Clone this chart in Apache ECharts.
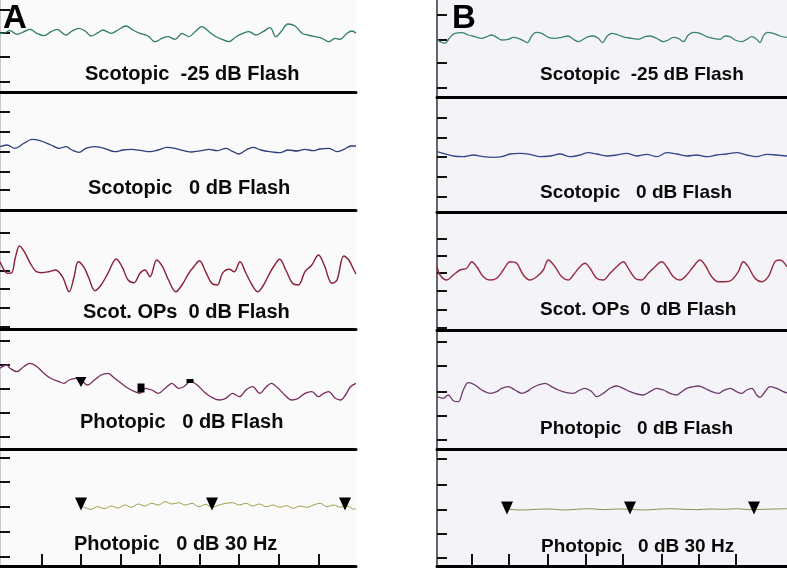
<!DOCTYPE html>
<html><head><meta charset="utf-8">
<script src="https://cdn.jsdelivr.net/npm/echarts@6/dist/echarts.min.js"></script>
<style>html,body{margin:0;padding:0;background:#fff}#c{width:787px;height:569px}</style>
</head><body><div id="c"></div>
<script>
// ---------- DATA (time in ms-like units, amplitude in µV-like units) ----------
const rowLabels = ['Scotopic  -25 dB Flash', 'Scotopic   0 dB Flash', 'Scot. OPs  0 dB Flash', 'Photopic   0 dB Flash', 'Photopic   0 dB 30 Hz'];
const panelNames = ['A', 'B'];

const scotNeg25A = [[0,59],[3,58.7],[10,61.3],[17,57.7],[24,60.3],[30,62.7],[37,58.7],[44,56.3],[51,60.3],[57,62.7],[66,57],[72,61],[79,63.7],[86,60.3],[91,56],[98,59.3],[103,62],[111,58.7],[118,62],[126,66],[133,62],[140,58.7],[148,56],[155,50.3],[162,53.7],[168,55.3],[175,52.7],[182,58.7],[189,55.3],[195,60.3],[202,65.3],[209,60.3],[216,55.3],[222,52.7],[229,50.3],[236,55.3],[243,58.7],[249,60.3],[256,57],[263,60.3],[270,64.3],[276,55.3],[281,60.3],[288,68],[295,66],[302,58.7],[308,57],[315,55.3],[322,53.7],[329,50.3],[335,53.7],[340,52.7],[347,58.7],[352,61],[356,58.7]];
const scot0A = [[0,63.3],[7,65],[15,61.7],[24,66.7],[32,70.7],[40,69.3],[51,65],[59,61.7],[66,63.3],[72,60],[79,57.7],[86,61.7],[94,63.3],[104,61.7],[115,58.3],[123,60],[131,60.7],[142,59.3],[150,58.3],[158,60],[167,62.7],[175,61.7],[184,59.3],[192,58],[201,59.3],[209,60.7],[217,59.3],[226,61.7],[233,58.3],[239,56],[246,60],[253,62.7],[261,60],[270,58.3],[280,57.3],[288,60],[297,59],[305,60.7],[313,59.3],[320,61],[329,61.7],[337,58.3],[344,60.7],[351,64],[356,64]];
const scotOPsA = [[0,67.3],[4,59],[7.4,55.7],[11.8,56.3],[15.2,70.7],[19.5,83],[24.3,77.3],[30.3,65.7],[36.4,57.3],[42.1,56.3],[48.9,57.3],[55.6,59],[62.4,52.3],[69.1,37.3],[74.1,52.3],[78.2,67.3],[83.6,62.3],[88.3,52.3],[95,38.3],[101.1,44],[107.9,55.7],[116.3,70],[122,62.3],[128.1,49],[134.1,46.3],[139.9,55.7],[144.9,59],[150,52.3],[156.7,69],[162.5,62.3],[168.5,49],[175.9,37.3],[182,44],[188.7,55.7],[193.8,62.3],[199.5,68.3],[205.6,57.3],[211.7,45.7],[217.4,44],[222.4,55.7],[229.2,59.7],[234.2,57.3],[240,67.3],[246,55.7],[252.1,44],[257.8,37.3],[263.6,44],[269.6,55.7],[274.7,64],[279.7,69.7],[285.8,59],[292.6,45.7],[298.3,44],[305,57.3],[311.8,64],[318.5,74],[324.2,64],[332,45.7],[337,49],[343.8,73],[348.8,69],[353.9,59],[356,55]];
const photoFlashA = [[0,80.7],[6.7,84],[10.1,80.7],[16.9,77.3],[23.6,82.3],[30.3,85.7],[37.1,82.3],[43.8,75.7],[50.6,70.7],[59,67.3],[64,65.7],[69.1,69],[75.8,70.7],[82.6,67.3],[87.6,64],[94.4,69],[101.1,74],[107.9,75.7],[114.6,70.7],[121.3,65.7],[128.1,60.7],[134.8,57.3],[139.9,55.7],[144.9,60.7],[151.7,59],[158.4,55.7],[165.2,60.7],[171.9,65.7],[178.6,60.7],[183.7,62.3],[190.4,67.3],[197.2,64],[203.9,57.3],[210.7,52.3],[219.1,49],[225.8,50.7],[232.6,55.7],[239.3,52.3],[246,59],[252.8,62.3],[259.5,55.7],[266.3,62.3],[271.3,65.7],[278.1,60.7],[284.8,54],[291.5,49],[298.3,50.7],[305,55.7],[311.8,57.3],[318.5,52.3],[323.6,55.7],[328.6,57.3],[335.4,50.7],[340.4,49],[345.5,54],[350.5,62.3],[356,65.7]];
const photoFlashMarksA = [[81,67],[141,61],[190,68]];
const flicker30A = [[81,61],[84.3,58.7],[91,56.7],[97.7,59.3],[104.5,57.3],[111.2,60],[118,58],[124.7,61],[131.4,58.7],[138.2,62],[144.9,60],[151.7,62.7],[158.4,61],[165.2,64.3],[171.9,62],[178.6,63.3],[185.4,61],[192.1,62.7],[198.9,59.3],[205.6,61.7],[212.3,58.7],[219.1,61],[225.8,62.7],[232.6,63.3],[239.3,61],[246,62.7],[252.8,60],[259.5,62],[266.3,59.3],[273,61],[279.7,58.7],[286.5,60.3],[293.2,57.7],[300,60],[306.7,58.7],[313.4,61],[320.2,62.7],[326.9,59.3],[333.7,61],[340.4,58.7],[347.2,60],[353.9,56.7],[356,58]];
const flickerMarksA = [[81,62],[212,62],[345,62]];

const scotNeg25B = [[0,57.7],[3,55.3],[8,53.7],[13,59.7],[18,63.7],[24.7,64.3],[31.3,62],[38,60.3],[44.7,58.7],[49.7,60.3],[54.7,62],[59.7,59.7],[64.7,57],[71.3,57.7],[76.3,59.7],[81.3,58.7],[86.3,56.3],[90.3,54.3],[94.7,61],[99,64.7],[104.7,63.7],[111.3,59.7],[118,58.7],[124.7,59.7],[131.3,61],[136.3,57.7],[141.3,55.3],[146.3,57.7],[151.3,60.3],[156.3,61],[161.3,58.7],[165.7,54.3],[169.7,60.3],[174.7,63.7],[181.3,62],[188,59.7],[194.7,58.7],[201.3,57.7],[208,60.3],[213,61],[219.7,58.7],[226.3,55.3],[231.3,57],[236.3,59.7],[241.3,58.7],[246.3,55.3],[251.3,62],[256.3,64.7],[263,63.7],[269.7,60.3],[276.3,58.7],[283,57.7],[288,61],[293,60.3],[298,57],[304.7,55.3],[309.7,57.7],[314.7,60.3],[319.7,57.7],[323,54.3],[326.3,61],[330.3,64.7],[336.3,63.7],[343,61],[350,59.7]];
const scot0B = [[0,60.3],[6.3,58.7],[16.3,56],[26.3,55.3],[36.3,57],[46.3,55.3],[56.3,54.7],[64.7,55.3],[73,58],[83,58.7],[93,57.7],[103,55.3],[113,56],[123,58],[133,55.3],[143,57],[151.3,59.3],[159.7,58],[169.7,56],[179.7,57],[189.7,58.7],[199.7,56],[209.7,57.7],[219.7,55.3],[229.7,59.3],[239.7,58],[249.7,56],[259.7,57],[269.7,55.3],[279.7,57],[289.7,58],[299.7,59.3],[309.7,57],[319.7,55.3],[329.7,57.7],[339.7,57],[350,56]];
const scotOPsB = [[0,63.3],[3,55],[9.7,50],[16.3,55],[23,60],[29.7,61.7],[34.7,68.3],[39.7,63.3],[46.3,53.3],[53,50],[59.7,51.7],[66.3,60],[73,68.3],[79.7,66.7],[86.3,55],[93,50],[99.7,53.3],[106.3,60],[111.3,70],[118,63.3],[124.7,53.3],[131.3,50],[136.3,55],[143,63.3],[148,66.7],[153,61.7],[159.7,51.7],[166.3,50],[173,56.7],[179.7,63.3],[186.3,68.3],[191.3,61.7],[198,51.7],[204.7,50],[211.3,56.7],[218,63.3],[224.7,68.3],[229.7,63.3],[236.3,53.3],[243,50],[249.7,55],[256.3,63.3],[263,70],[268,65],[274.7,53.3],[281.3,48.3],[288,48.3],[294.7,50],[301.3,58.3],[306.3,68.3],[311.3,63.3],[318,51.7],[324.7,48.3],[331.3,53.3],[338,68.3],[343,70],[350,63.3]];
const photoFlashB = [[0,52.3],[6.3,50.7],[11.3,54],[16.3,48.3],[21.3,47.3],[26.3,59],[31.3,66.3],[38,64],[44.7,59],[53,55.7],[59.7,57.3],[64.7,60.7],[71.3,62.3],[78,59],[84.7,55.7],[89.7,57.3],[94.7,60.7],[101.3,64],[108,65.7],[114.7,62.3],[121.3,59],[129.7,56.3],[136.3,55.7],[143,59],[148,60.7],[154.7,57.3],[159.7,52.3],[166.3,55.7],[173,60.7],[179.7,63],[186.3,60.7],[193,57.3],[199.7,55],[206.3,54],[213,57.3],[219.7,60.7],[226.3,59],[233,55.7],[239.7,54],[244.7,57.3],[249.7,60.7],[256.3,62.3],[261.3,63],[268,60.7],[274.7,57.3],[281.3,55.7],[286.3,58.3],[293,60.7],[299.7,57.3],[304.7,55.7],[309.7,59],[314.7,60.7],[319.7,54],[323,51.7],[328,57.3],[333,62.3],[339.7,60.7],[346.3,57.3],[350,56]];
const flicker30B = [[70,58],[73,56.7],[86.3,56],[99.7,56.7],[113,57],[126.3,56],[139.7,56.7],[153,57.3],[166.3,56.3],[179.7,57],[193,56.7],[206.3,56],[219.7,56.7],[233,57.3],[246.3,56.7],[259.7,56.3],[273,57],[286.3,56.7],[299.7,57.3],[313,56.3],[326.3,56.7],[339.7,57],[350,57.3]];
const flickerMarksB = [[70,58],[193,58],[317,58]];

// axis tick values
const yTicksA = [[82,59,35,10],[98,78,58,38,20],[96,77,58,40,21,2],[108,84,60,36,12],[108,84,59,34,9]];
const yTicksB = [[82,57,34,9],[94,74,55,35,15],[91,74,57,39,20,2],[107,83,57,33,9],[107,81,56,32,8]];
const xTicksA = [42,81,121,160,200,239,279,319];
const xTicksB = [35,72,111,149,186,225,262,299];

// ---------- LAYOUT / STYLE ----------
const panels = [
  { left: 0, width: 356, xMax: 356, bg: '#fafafa', axisCol: '#c9c9d2',
    rows: [{top:0,h:92},{top:92,h:118},{top:210,h:119},{top:329,h:120},{top:449,h:117}],
    traces: [scotNeg25A, scot0A, scotOPsA, photoFlashA, flicker30A], yTicks: yTicksA, xTicks: xTicksA,
    labelPos: [[85,73],[88,187],[83,311],[80,421],[74,543]], fontSize: 20, letterPos: [3,2] },
  { left: 437, width: 350, xMax: 350, bg: '#f4f4f8', axisCol: '#666',
    rows: [{top:0,h:97},{top:97,h:115},{top:212,h:118},{top:330,h:119},{top:449,h:117}],
    traces: [scotNeg25B, scot0B, scotOPsB, photoFlashB, flicker30B], yTicks: yTicksB, xTicks: xTicksB,
    labelPos: [[540,74],[540,192],[540,309],[540,428],[541,546]], fontSize: 19, letterPos: [452,2] }
];
const traceColors = [['#2f7c6c','#3b8272'],['#2c3e7a','#33478a'],['#8a1e36','#98293f'],['#7a2b5d','#6d3a6c'],['#a09c45','#8e8c52']];
const traceWidths = [1.3, 1.3, 1.4, 1.3, 1.0];

const grids = [], xAxes = [], yAxes = [], series = [], graphics = [];
panels.forEach((p, pi) => {
  p.rows.forEach((r, ri) => {
    const gi = grids.length;
    grids.push({ left: p.left, top: r.top, width: p.width, height: r.h, show: true, backgroundColor: p.bg, borderWidth: 0 });
    const last = ri === p.rows.length - 1;
    xAxes.push({ gridIndex: gi, type: 'value', min: 0, max: p.xMax,
      axisLine: { show: true, onZero: false, lineStyle: { color: '#000', width: 3 } },
      axisTick: last ? { show: true, inside: true, length: 12, customValues: p.xTicks, lineStyle: { color: '#111', width: 2 } } : { show: false },
      axisLabel: { show: false }, splitLine: { show: false } });
    yAxes.push({ gridIndex: gi, type: 'value', min: 0, max: r.h,
      axisLine: { show: true, lineStyle: { color: p.axisCol, width: 2 } },
      axisTick: { show: true, inside: true, length: 10, customValues: p.yTicks[ri], lineStyle: { color: '#111', width: 2 } },
      axisLabel: { show: false }, splitLine: { show: false } });
    series.push({ type: 'line', xAxisIndex: gi, yAxisIndex: gi, data: p.traces[ri], showSymbol: false, smooth: 0.35,
      lineStyle: { color: traceColors[ri][pi], width: traceWidths[ri] }, silent: true, z: 3 });
    if (last) {
      series.push({ type: 'scatter', xAxisIndex: gi, yAxisIndex: gi, data: pi === 0 ? flickerMarksA : flickerMarksB,
        symbol: 'triangle', symbolRotate: 180, symbolSize: [12, 13], itemStyle: { color: '#000', opacity: 1 }, z: 4, silent: true });
    }
    if (pi === 0 && ri === 3) {
      const shapes = ['triangle', 'rect', 'rect'];
      const sizes = [[11, 10], [7, 9], [7, 4]];
      photoFlashMarksA.forEach((m, k) => series.push({ type: 'scatter', xAxisIndex: gi, yAxisIndex: gi, data: [m],
        symbol: shapes[k], symbolRotate: k === 0 ? 180 : 0, symbolSize: sizes[k], itemStyle: { color: '#000', opacity: 1 }, z: 4, silent: true }));
    }
    graphics.push({ type: 'text', left: p.labelPos[ri][0], top: p.labelPos[ri][1] - 9, z: 10,
      style: { text: rowLabels[ri], font: 'bold ' + p.fontSize + 'px "Liberation Sans", Arial, sans-serif', fill: '#0a0a0a' } });
  });
  graphics.push({ type: 'text', left: p.letterPos[0], top: p.letterPos[1], z: 10,
    style: { text: panelNames[pi], font: 'bold 33px "Liberation Sans", Arial, sans-serif', fill: '#000' } });
});

const chart = echarts.init(document.getElementById('c'), null, { renderer: 'canvas' });
chart.setOption({ animation: false, backgroundColor: '#ffffff', grid: grids, xAxis: xAxes, yAxis: yAxes, series: series, graphic: graphics });
</script>
</body></html>
